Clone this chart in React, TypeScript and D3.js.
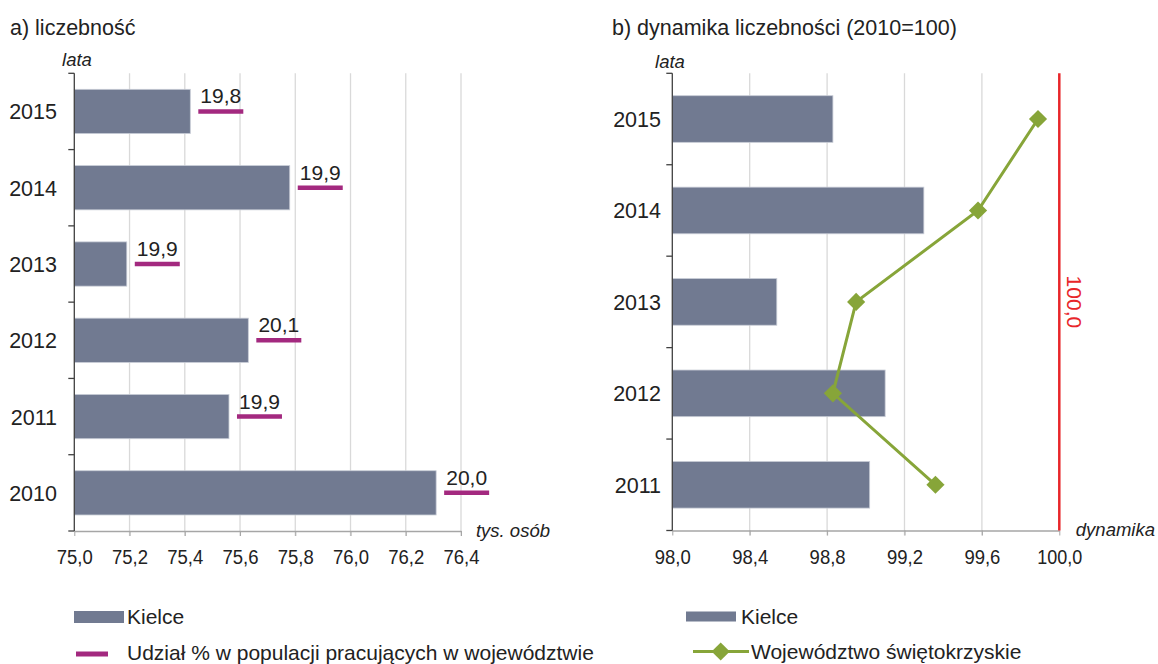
import React, { useEffect, useRef } from "react";
import * as d3 from "d3";

// a) liczebność
const years = ["2015", "2014", "2013", "2012", "2011", "2010"];
const kielceCount = [75.42, 75.78, 75.19, 75.63, 75.56, 76.31];
const shareInRegion = [19.8, 19.9, 19.9, 20.1, 19.9, 20.0];
const countTicks = [75.0, 75.2, 75.4, 75.6, 75.8, 76.0, 76.2, 76.4];

// b) dynamika liczebności (2010=100)
const dynYears = ["2015", "2014", "2013", "2012", "2011"];
const kielceDyn = [98.83, 99.3, 98.54, 99.1, 99.02];
const regionDyn = [99.89, 99.58, 98.95, 98.83, 99.36];
const dynTicks = [98.0, 98.4, 98.8, 99.2, 99.6, 100.0];

const BAR = "#717a91";
const MAGENTA = "#a3297f";
const GREEN = "#87a539";
const GRID = "#d9d9d9";
const FONT = "'Liberation Sans', Arial, sans-serif";
const FS = 21; // main text size

const pl = d3.formatLocale({ decimal: ",", thousands: " ", grouping: [3], currency: ["", ""] });
const fmt = pl.format(".1f");

export default function App() {
  const ref = useRef<SVGSVGElement>(null);

  useEffect(() => {
    const svg = d3.select(ref.current);
    svg.selectAll("*").remove();
    svg.style("font-family", FONT);

    // y axis line with small ticks on the band boundaries
    const drawYAxis = (g, y, x0, cats) => {
      const [top, bottom] = y.range();
      g.append("line").attr("x1", x0).attr("x2", x0).attr("y1", top).attr("y2", bottom)
        .attr("stroke", "#404040").attr("stroke-width", 1.3);
      d3.range(cats.length + 1).forEach((i) => {
        const yy = top + i * y.step();
        g.append("line").attr("x1", x0 - 6).attr("x2", x0).attr("y1", yy).attr("y2", yy)
          .attr("stroke", "#404040").attr("stroke-width", 1.3);
      });
    };

    // x axis, labels a bit condensed like the original
    const drawXAxis = (g, x, ticks, y0) => {
      const ax = g.append("g").attr("transform", `translate(0,${y0})`)
        .call(d3.axisBottom(x).tickValues(ticks).tickFormat(fmt).tickSize(5).tickSizeOuter(0));
      ax.select(".domain").attr("stroke", "#a6a6a6").attr("stroke-width", 1.3);
      ax.selectAll(".tick line").attr("stroke", "#a6a6a6");
      ax.selectAll(".tick text").attr("font-size", FS - 1).attr("fill", "#222")
        .attr("y", 33).attr("dy", 0).attr("font-family", FONT)
        .attr("textLength", (d) => fmt(d).length * 9)
        .attr("lengthAdjust", "spacingAndGlyphs");
    };

    // ---------- panel a ----------
    const xa = d3.scaleLinear().domain([75, 76.4]).range([74.3, 461]);
    const ya = d3.scaleBand().domain(years).range([73.3, 531]).paddingInner(0.42).paddingOuter(0.21);
    const ga = svg.append("g");

    ga.append("text").attr("x", 10).attr("y", 35).attr("font-size", FS + 0.5).attr("fill", "#222").text("a) liczebność");
    ga.append("text").attr("x", 77).attr("y", 66).attr("font-size", 18.5).attr("font-style", "italic")
      .attr("fill", "#222").attr("text-anchor", "middle").text("lata");

    ga.selectAll("line.grid").data(countTicks.slice(1)).join("line").attr("class", "grid")
      .attr("x1", (d) => xa(d)).attr("x2", (d) => xa(d)).attr("y1", 73.3).attr("y2", 536)
      .attr("stroke", GRID).attr("stroke-width", 1.3);

    drawXAxis(ga, xa, countTicks, 531);

    ga.append("text").attr("x", 550).attr("y", 537).attr("font-size", 18.5).attr("font-style", "italic")
      .attr("fill", "#222").attr("text-anchor", "end").text("tys. osób");

    ga.selectAll("rect.bar").data(years).join("rect").attr("class", "bar")
      .attr("x", xa(75)).attr("y", (d) => ya(d)).attr("height", ya.bandwidth())
      .attr("width", (d, i) => xa(kielceCount[i]) - xa(75))
      .attr("fill", BAR).attr("stroke", "#c8ccd6").attr("stroke-width", 0.8);

    drawYAxis(ga, ya, 74.3, years);
    ga.selectAll("text.year").data(years).join("text").attr("class", "year")
      .attr("x", 57).attr("y", (d) => ya(d) + ya.bandwidth() / 2 + 8).attr("text-anchor", "end")
      .attr("font-size", FS + 0.5).attr("fill", "#222").text((d) => d);

    // share markers (dash) with their labels
    years.forEach((yr, i) => {
      const cx = xa(kielceCount[i]) + 30.5;
      const cy = ya(yr) + ya.bandwidth() / 2;
      ga.append("line").attr("x1", cx - 22.5).attr("x2", cx + 22.5).attr("y1", cy).attr("y2", cy)
        .attr("stroke", MAGENTA).attr("stroke-width", 4.5);
      ga.append("text").attr("x", cx).attr("y", cy - 8).attr("text-anchor", "middle")
        .attr("font-size", FS).attr("fill", "#222").text(fmt(shareInRegion[i]));
    });

    // ---------- panel b ----------
    const xb = d3.scaleLinear().domain([98, 100]).range([672.3, 1059.3]);
    const yb = d3.scaleBand().domain(dynYears).range([73.3, 530.5]).paddingInner(0.49).paddingOuter(0.245);
    const gb = svg.append("g");

    gb.append("text").attr("x", 612).attr("y", 35).attr("font-size", FS + 0.5).attr("fill", "#222")
      .text("b) dynamika liczebności (2010=100)");
    gb.append("text").attr("x", 670).attr("y", 68).attr("font-size", 18.5).attr("font-style", "italic")
      .attr("fill", "#222").attr("text-anchor", "middle").text("lata");

    gb.selectAll("line.grid").data(dynTicks.slice(1, -1)).join("line").attr("class", "grid")
      .attr("x1", (d) => xb(d)).attr("x2", (d) => xb(d)).attr("y1", 73.3).attr("y2", 535.5)
      .attr("stroke", GRID).attr("stroke-width", 1.3);

    drawXAxis(gb, xb, dynTicks, 530.5);

    gb.append("text").attr("x", 1155).attr("y", 536).attr("font-size", 18.5).attr("font-style", "italic")
      .attr("fill", "#222").attr("text-anchor", "end").text("dynamika");

    gb.selectAll("rect.bar").data(dynYears).join("rect").attr("class", "bar")
      .attr("x", xb(98)).attr("y", (d) => yb(d)).attr("height", yb.bandwidth())
      .attr("width", (d, i) => xb(kielceDyn[i]) - xb(98))
      .attr("fill", BAR).attr("stroke", "#c8ccd6").attr("stroke-width", 0.8);

    drawYAxis(gb, yb, 672.3, dynYears);
    gb.selectAll("text.year").data(dynYears).join("text").attr("class", "year")
      .attr("x", 661).attr("y", (d) => yb(d) + yb.bandwidth() / 2 + 8).attr("text-anchor", "end")
      .attr("font-size", FS + 0.5).attr("fill", "#222").text((d) => d);

    // reference line at 100
    gb.append("line").attr("x1", xb(100)).attr("x2", xb(100)).attr("y1", 73.3).attr("y2", 530.5)
      .attr("stroke", "#e8262a").attr("stroke-width", 2.5);
    gb.append("text").attr("transform", `translate(${xb(100) + 8},${(73.3 + 530.5) / 2}) rotate(90)`)
      .attr("text-anchor", "middle").attr("font-size", FS).attr("fill", "#e8262a").text(fmt(100));

    // województwo line with diamond markers
    const line = d3.line<number>()
      .x((d) => xb(d))
      .y((d, i) => yb(dynYears[i]) + yb.bandwidth() / 2);
    gb.append("path").datum(regionDyn).attr("d", line).attr("fill", "none")
      .attr("stroke", GREEN).attr("stroke-width", 3);
    const diamond = d3.symbol().type(d3.symbolSquare).size(165);
    gb.selectAll("path.mk").data(regionDyn).join("path").attr("class", "mk")
      .attr("d", diamond)
      .attr("transform", (d, i) => `translate(${xb(d)},${yb(dynYears[i]) + yb.bandwidth() / 2}) rotate(45)`)
      .attr("fill", GREEN);

    // ---------- legends ----------
    const lg = svg.append("g");
    lg.append("rect").attr("x", 74).attr("y", 611).attr("width", 50).attr("height", 12).attr("fill", BAR);
    lg.append("text").attr("x", 127).attr("y", 624).attr("font-size", FS).attr("fill", "#222").text("Kielce");
    lg.append("line").attr("x1", 76).attr("x2", 108).attr("y1", 654).attr("y2", 654)
      .attr("stroke", MAGENTA).attr("stroke-width", 5);
    lg.append("text").attr("x", 127).attr("y", 660).attr("font-size", FS).attr("fill", "#222")
      .text("Udział % w populacji pracujących w województwie");

    lg.append("rect").attr("x", 686).attr("y", 611.5).attr("width", 50).attr("height", 10).attr("fill", BAR);
    lg.append("text").attr("x", 741).attr("y", 624).attr("font-size", FS).attr("fill", "#222").text("Kielce");
    lg.append("line").attr("x1", 693).attr("x2", 749).attr("y1", 651.5).attr("y2", 651.5)
      .attr("stroke", GREEN).attr("stroke-width", 3);
    lg.append("path").attr("d", diamond).attr("transform", "translate(720.7,651.5) rotate(45)").attr("fill", GREEN);
    lg.append("text").attr("x", 751).attr("y", 659).attr("font-size", FS).attr("fill", "#222")
      .text("Województwo świętokrzyskie");
  }, []);

  return (
    <svg
      ref={ref}
      width={1158}
      height={664}
      style={{ position: "absolute", left: 0, top: 0, background: "#fff" }}
    />
  );
}
